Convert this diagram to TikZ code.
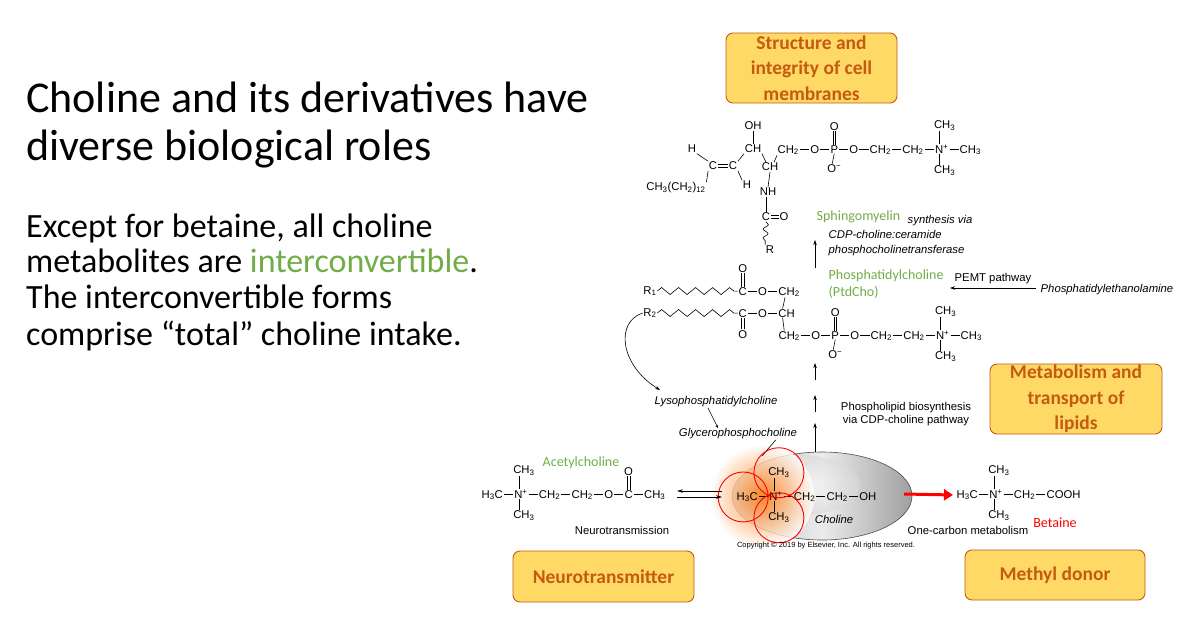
\documentclass[tikz,border=0pt]{standalone}
\usepackage{fontspec}
\setmainfont{Liberation Sans}
\newfontfamily\calf{Carlito}
\usetikzlibrary{positioning,decorations.pathmorphing,arrows.meta,shadings,shapes.geometric}
\definecolor{grn}{HTML}{70AD47}
\definecolor{boxf}{HTML}{FFD966}
\definecolor{boxd}{HTML}{C55A11}
\newcommand\chf{\fontsize{11.3}{13}\selectfont}
\newcommand\sub[1]{\textsubscript{#1}}
\newcommand\spr[1]{\textsuperscript{#1}}
\newcommand\bnd{\rule[0.3em]{0.8em}{0.5pt}}
\begin{document}
\begin{tikzpicture}[x=1pt,y=-1pt,
  chem/.style={font=\chf,inner sep=0.4pt,anchor=base west},
  cc/.style={font=\chf,inner sep=0.6pt},
  lbl/.style={font=\chf,inner sep=0.5pt},
  ital/.style={font=\chf\itshape,inner sep=0.5pt},
  gr/.style={font=\calf\fontsize{14}{16}\selectfont,text=grn,inner sep=0.5pt},
  ybox/.style={draw=boxd,fill=boxf,rounded corners=7pt,line width=0.9pt},
  ytxt/.style={font=\calf\bfseries\fontsize{19.5}{25.5}\selectfont,text=boxd,align=center},
  bd/.style={line width=0.6pt},
  ar/.style={-{Stealth[length=5pt,width=3.5pt]},line width=0.6pt},
  zz/.style={line width=0.6pt,decorate,decoration={zigzag,segment length=17pt,amplitude=3.5pt}}]
\useasboundingbox (0,0) rectangle (1178,638);
% ---------- left texts
\node[anchor=base west,font=\calf\fontsize{44}{50}\selectfont,inner sep=0] (t1) at (26,112) {Choline and its derivatives have};
\node[anchor=base west,font=\calf\fontsize{44}{50}\selectfont,inner sep=0] (t2) at (26,160) {diverse biological roles};
\node[anchor=base west,font=\calf\fontsize{34}{38}\selectfont,inner sep=0] (t3) at (26,237) {Except for betaine, all choline};
\node[anchor=base west,font=\calf\fontsize{34}{38}\selectfont,inner sep=0] (t4) at (26,272) {metabolites are \textcolor{grn}{interconvertible}.};
\node[anchor=base west,font=\calf\fontsize{34}{38}\selectfont,inner sep=0] (t5) at (26,308) {The interconvertible forms};
\node[anchor=base west,font=\calf\fontsize{34}{38}\selectfont,inner sep=0] (t6) at (26,345) {comprise “total” choline intake.};
% ---------- boxes
\node[ybox,minimum width=171pt,minimum height=70pt] (bx1) at (811.5,68) {};
\node[ytxt] (bx1t) at (bx1) {Structure and\\integrity of cell\\membranes};
\node[ybox,minimum width=172pt,minimum height=70pt] (bx2) at (1076,399) {};
\node[ytxt] (bx2t) at (bx2) {Metabolism and\\transport of\\lipids};
\node[ybox,minimum width=181pt,minimum height=51pt] (bx3) at (603.5,576.5) {};
\node[ytxt] (bx3t) at (bx3) {Neurotransmitter};
\node[ybox,minimum width=180pt,minimum height=50pt] (bx4) at (1055,575) {};
\node[ytxt] (bx4t) at (bx4) {Methyl donor};
% ---------- sphingomyelin
\node[cc] (oh) at (753,126) {OH};
\node[cc] (cha) at (753,149) {CH};
\draw[bd] (oh) -- (cha);
\node[cc] (h1) at (692,149) {H};
\node[cc] (c1) at (713,166) {C};
\node[cc] (c2) at (733,166) {C};
\draw[bd] ([yshift=-1pt]c1.east) -- ([yshift=-1pt]c2.west) ([yshift=1.3pt]c1.east) -- ([yshift=1.3pt]c2.west);
\node[cc] (alk) at (676,188) {CH\sub3(CH\sub2)\sub{12}};
\node[cc] (h2) at (747,185) {H};
\draw[bd] (h1.south east) -- (c1.north west) (c1.south west) -- (alk.north east)
  (c2.north east) -- (cha.south west) (c2.south east) -- (h2.north west);
\node[cc] (chb) at (770,167) {CH};
\draw[bd] (cha.south east) -- ([xshift=-4pt]chb.north);
\node[chem] (s1) at (777,153) {CH\sub2};
\draw[bd] ([xshift=4pt]chb.north) -- (s1.south west);
\node[chem] (s1b) at (s1.base east) {\bnd};
\node[chem] (s2) at (s1b.base east) {O};
\node[chem] (s2b) at (s2.base east) {\bnd};
\node[chem] (s3) at (s2b.base east) {P};
\node[chem] (s3b) at (s3.base east) {\bnd};
\node[chem] (s4) at (s3b.base east) {O};
\node[chem] (s4b) at (s4.base east) {\bnd};
\node[chem] (s5) at (s4b.base east) {CH\sub2};
\node[chem] (s5b) at (s5.base east) {\bnd};
\node[chem] (s6) at (s5b.base east) {CH\sub2};
\node[chem] (s6b) at (s6.base east) {\bnd};
\node[chem] (s7) at (s6b.base east) {N\spr{+}};
\node[chem] (s7b) at (s7.base east) {\bnd};
\node[chem] (s8) at (s7b.base east) {CH\sub3};
\node[cc] (so) at ([yshift=23pt]s3.center) {O};
\draw[bd] ([xshift=-1.2pt]so.south) -- ([xshift=-1.2pt]s3.north) ([xshift=1.2pt]so.south) -- ([xshift=1.2pt]s3.north);
\node[cc,anchor=north] (som) at ([yshift=-10pt]s3.south) {O\spr{−}};
\draw[bd] (s3.south) -- ([xshift=-2pt]som.north);
\node[cc] (sme1) at ([xshift=3pt,yshift=23pt]s7.center) {CH\sub3};
\node[cc] (sme2) at ([xshift=3pt,yshift=-22pt]s7.center) {CH\sub3};
\draw[bd] ([xshift=-2pt]s7.north) -- ([xshift=-5pt]sme1.south) ([xshift=-2pt]s7.south) -- ([xshift=-5pt]sme2.north);
\node[cc] (nh) at (768,192) {NH};
\draw[bd] (chb.south) -- (nh.north);
\node[cc] (cco) at (766,217) {C};
\node[cc,anchor=west] (ccoo) at ([xshift=8pt]cco.east) {O};
\draw[bd] ([yshift=-1pt]cco.east) -- ([yshift=-1pt]ccoo.west) ([yshift=1.3pt]cco.east) -- ([yshift=1.3pt]ccoo.west);
\draw[bd] ([xshift=-2pt]nh.south) -- (cco.north);
\node[cc] (rr) at (770,250) {R};
\draw[bd,decorate,decoration={snake,segment length=9pt,amplitude=2.5pt}] (cco.south) -- (rr.north west);
\node[gr,anchor=base west] (sph) at (816,220) {Sphingomyelin};
\node[ital,anchor=base west] (syn) at (907,223) {synthesis via};
\node[ital,anchor=base west] (cdp) at (828,238) {CDP-choline:ceramide};
\node[ital,anchor=base west] (pct) at (828,253) {phosphocholinetransferase};
\coordinate (a0b) at (815,268); \coordinate (a0t) at (815,240);
\draw[ar] (a0b) -- (a0t);
% ---------- phosphatidylcholine
\node[chem] (pc1) at (738,295) {C};
\node[chem] (pc1b) at (pc1.base east) {\bnd};
\node[chem] (pc2) at (pc1b.base east) {O};
\node[chem] (pc2b) at (pc2.base east) {\bnd};
\node[chem] (pc3) at (pc2b.base east) {CH\sub2};
\node[cc] (pco1) at ([yshift=23pt]pc1.center) {O};
\draw[bd] ([xshift=-1.2pt]pco1.south) -- ([xshift=-1.2pt]pc1.north) ([xshift=1.2pt]pco1.south) -- ([xshift=1.2pt]pc1.north);
\node[cc] (r1) at (650,291) {R\sub1};
\draw[zz] (r1.east) -- (pc1.west);
\node[chem] (pd1) at (738,317) {C};
\node[chem] (pd1b) at (pd1.base east) {\bnd};
\node[chem] (pd2) at (pd1b.base east) {O};
\node[chem] (pd2b) at (pd2.base east) {\bnd};
\node[chem] (pd3) at (pd2b.base east) {CH};
\node[cc] (pco2) at ([yshift=-21pt]pd1.center) {O};
\draw[bd] ([xshift=-1.2pt]pco2.north) -- ([xshift=-1.2pt]pd1.south) ([xshift=1.2pt]pco2.north) -- ([xshift=1.2pt]pd1.south);
\node[cc] (r2) at (650,313) {R\sub2};
\draw[zz] (r2.east) -- (pd1.west);
\node[chem] (q1) at (778,339) {CH\sub2};
\draw[bd] ([xshift=-4pt]pc3.south) -- ([xshift=-4pt]pd3.north) ([xshift=-4pt]pd3.south) -- ([xshift=-5pt]q1.north);
\node[chem] (q1b) at (q1.base east) {\bnd};
\node[chem] (q2) at (q1b.base east) {O};
\node[chem] (q2b) at (q2.base east) {\bnd};
\node[chem] (q3) at (q2b.base east) {P};
\node[chem] (q3b) at (q3.base east) {\bnd};
\node[chem] (q4) at (q3b.base east) {O};
\node[chem] (q4b) at (q4.base east) {\bnd};
\node[chem] (q5) at (q4b.base east) {CH\sub2};
\node[chem] (q5b) at (q5.base east) {\bnd};
\node[chem] (q6) at (q5b.base east) {CH\sub2};
\node[chem] (q6b) at (q6.base east) {\bnd};
\node[chem] (q7) at (q6b.base east) {N\spr{+}};
\node[chem] (q7b) at (q7.base east) {\bnd};
\node[chem] (q8) at (q7b.base east) {CH\sub3};
\node[cc] (qo) at ([yshift=23pt]q3.center) {O};
\draw[bd] ([xshift=-1.2pt]qo.south) -- ([xshift=-1.2pt]q3.north) ([xshift=1.2pt]qo.south) -- ([xshift=1.2pt]q3.north);
\node[cc,anchor=north] (qom) at ([yshift=-10pt]q3.south) {O\spr{−}};
\draw[bd] (q3.south) -- ([xshift=-2pt]qom.north);
\node[cc] (qme1) at ([xshift=3pt,yshift=23pt]q7.center) {CH\sub3};
\node[cc] (qme2) at ([xshift=3pt,yshift=-22pt]q7.center) {CH\sub3};
\draw[bd] ([xshift=-2pt]q7.north) -- ([xshift=-5pt]qme1.south) ([xshift=-2pt]q7.south) -- ([xshift=-5pt]qme2.north);
\node[gr,anchor=base west] (ptd) at (828,279) {Phosphatidylcholine};
\node[gr,anchor=base west] (ptd2) at (828,296) {(PtdCho)};
\node[lbl,anchor=base west] (pemt) at (954,281) {PEMT pathway};
\node[ital,anchor=base west] (pe) at (1040,292) {Phosphatidylethanolamine};
\coordinate (pes) at (1036,288); \coordinate (pea) at (950,288);
\draw[ar] (pes) -- (pea);
% lyso
\node[ital] (lyso) at (716,402) {Lysophosphatidylcholine};
\node[ital] (gpc) at (738,434) {Glycerophosphocholine};
\draw[ar] (r2.west) .. controls (615,322) and (620,365) .. (660,390);
\draw[ar,-{Stealth[length=3pt,width=2.5pt]}] ([xshift=-8pt]lyso.south) -- ([xshift=-20pt]gpc.north);
\node[lbl,align=center] (plb) at (906,414) {Phospholipid biosynthesis\\via CDP-choline pathway};
\coordinate (a1b) at (815,380); \coordinate (a1t) at (815,363);
\coordinate (a2b) at (815,412); \coordinate (a2t) at (815,395);
\coordinate (a3b) at (815,452); \coordinate (a3t) at (815,423);
\draw[ar] (a1b) -- (a1t);
\draw[ar] (a2b) -- (a2t);
\draw[ar] (a3b) -- (a3t);
% ---------- choline
\shade[left color=gray!55, right color=gray!75, middle color=gray!15] (822,496) ellipse [x radius=90pt, y radius=44pt];
\shade[inner color=white, outer color=gray!30, opacity=0.6] (800,485) ellipse [x radius=60pt, y radius=30pt];
\node[draw=gray!60!black,line width=0.6pt,ellipse,minimum width=180pt,minimum height=88pt] (ell) at (822,496) {};
\shade[inner color=orange!90!red, middle color=orange!60, outer color=white, opacity=0.8] (762,496) circle [radius=52pt];
\coordinate (gl) at (762,456);
\draw[bd] ([xshift=-22pt]gpc.south east) -- (gl);
\node[chem] (h1a) at (736,500) {H\sub3C};
\node[chem] (h1b) at (h1a.base east) {\bnd};
\node[chem] (h1c) at (h1b.base east) {N\spr{+}};
\node[chem] (h1d) at (h1c.base east) {\bnd};
\node[chem] (h1e) at (h1d.base east) {CH\sub2};
\node[chem] (h1f) at (h1e.base east) {\bnd};
\node[chem] (h1g) at (h1f.base east) {CH\sub2};
\node[chem] (h1h) at (h1g.base east) {\bnd};
\node[chem] (h1i) at (h1h.base east) {OH};
\node[cc] (hme1) at ([xshift=3pt,yshift=23pt]h1c.center) {CH\sub3};
\node[cc] (hme2) at ([xshift=3pt,yshift=-22pt]h1c.center) {CH\sub3};
\draw[bd] ([xshift=-2pt]h1c.north) -- ([xshift=-5pt]hme1.south) ([xshift=-2pt]h1c.south) -- ([xshift=-5pt]hme2.north);
\node[ital] (chol) at (834,519) {Choline};
\draw[red,line width=0.9pt] ([xshift=-4pt]h1a.center) circle [radius=25pt] (hme1.center) circle [radius=25pt] (hme2.center) circle [radius=25pt];
% ---------- acetylcholine
\node[gr] (ach) at (581,463) {Acetylcholine};
\node[chem] (c1a) at (481,498) {H\sub3C};
\node[chem] (c1b) at (c1a.base east) {\bnd};
\node[chem] (c1c) at (c1b.base east) {N\spr{+}};
\node[chem] (c1d) at (c1c.base east) {\bnd};
\node[chem] (c1e) at (c1d.base east) {CH\sub2};
\node[chem] (c1f) at (c1e.base east) {\bnd};
\node[chem] (c1g) at (c1f.base east) {CH\sub2};
\node[chem] (c1h) at (c1g.base east) {\bnd};
\node[chem] (c1i) at (c1h.base east) {O};
\node[chem] (c1j) at (c1i.base east) {\bnd};
\node[chem] (c1k) at (c1j.base east) {C};
\node[chem] (c1l) at (c1k.base east) {\bnd};
\node[chem] (c1m) at (c1l.base east) {CH\sub3};
\node[cc] (cme1) at ([xshift=3pt,yshift=23pt]c1c.center) {CH\sub3};
\node[cc] (cme2) at ([xshift=3pt,yshift=-22pt]c1c.center) {CH\sub3};
\draw[bd] ([xshift=-2pt]c1c.north) -- ([xshift=-5pt]cme1.south) ([xshift=-2pt]c1c.south) -- ([xshift=-5pt]cme2.north);
\node[cc] (co) at ([yshift=23pt]c1k.center) {O};
\draw[bd] ([xshift=-1.2pt]co.south) -- ([xshift=-1.2pt]c1k.north) ([xshift=1.2pt]co.south) -- ([xshift=1.2pt]c1k.north);
\node[lbl] (neu) at (622,530) {Neurotransmission};
\coordinate (e1) at (722,491); \coordinate (e2) at (677,491);
\coordinate (e3) at (677,497); \coordinate (e4) at (722,497);
\draw[ar,-{Stealth[length=6pt,width=3.5pt]}] (e1) -- (e2);
\draw[ar,-{Stealth[length=6pt,width=3.5pt]}] (e3) -- (e4);
% ---------- betaine
\node[chem] (b1a) at (956,498) {H\sub3C};
\node[chem] (b1b) at (b1a.base east) {\bnd};
\node[chem] (b1c) at (b1b.base east) {N\spr{+}};
\node[chem] (b1d) at (b1c.base east) {\bnd};
\node[chem] (b1e) at (b1d.base east) {CH\sub2};
\node[chem] (b1f) at (b1e.base east) {\bnd};
\node[chem] (b1g) at (b1f.base east) {COOH};
\node[cc] (bme1) at ([xshift=3pt,yshift=23pt]b1c.center) {CH\sub3};
\node[cc] (bme2) at ([xshift=3pt,yshift=-22pt]b1c.center) {CH\sub3};
\draw[bd] ([xshift=-2pt]b1c.north) -- ([xshift=-5pt]bme1.south) ([xshift=-2pt]b1c.south) -- ([xshift=-5pt]bme2.north);
\coordinate (ra) at (904,494);
\draw[red,line width=3pt,-{Triangle[length=9pt,width=11pt]}] (ra) -- ([xshift=-3pt]b1a.west);
\node[font=\calf\fontsize{14}{16}\selectfont,text=red] (bet) at (1055,523) {Betaine};
\node[lbl] (ocm) at (968,530) {One-carbon metabolism};
\node[font=\fontsize{7.5}{8}\selectfont] (copy) at (826,546) {Copyright © 2019 by Elsevier, Inc. All rights reserved.};
\end{tikzpicture}
\end{document}
